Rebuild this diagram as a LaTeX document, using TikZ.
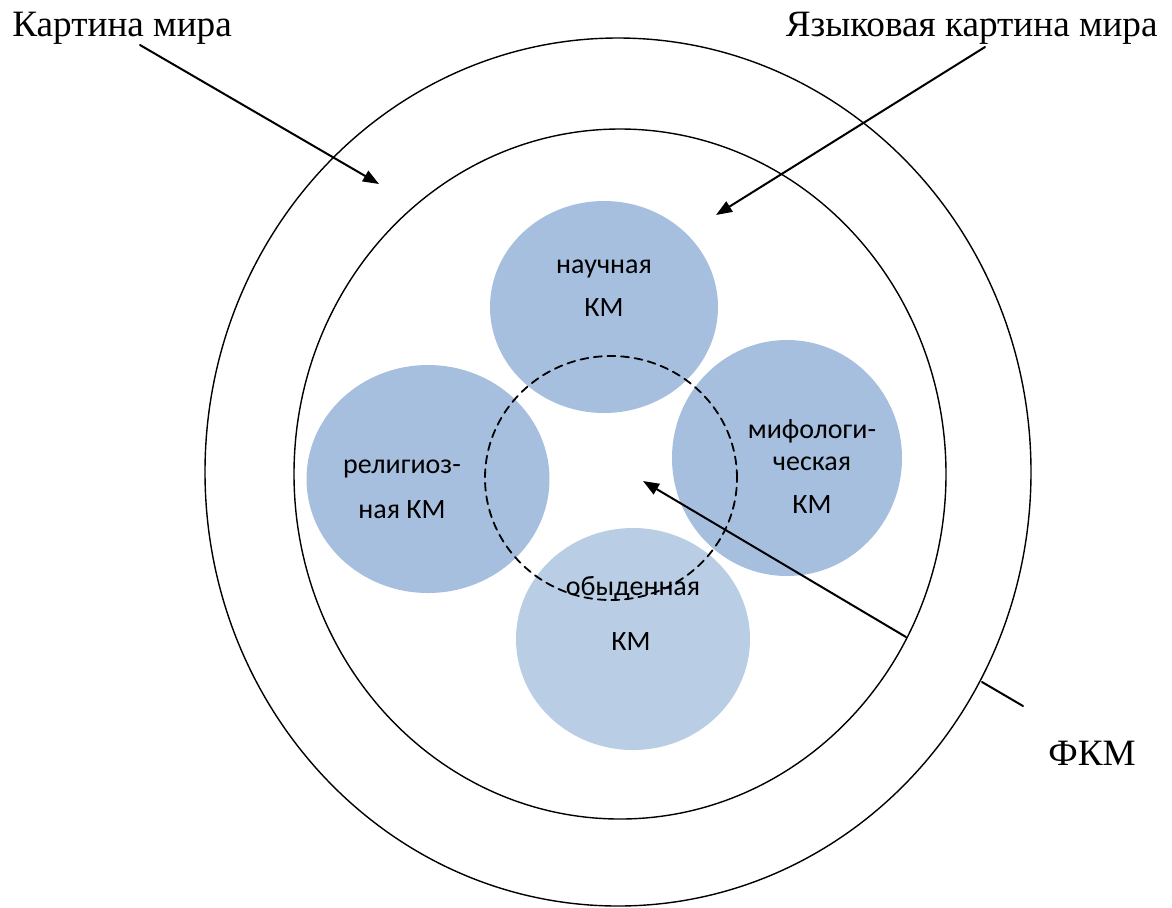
\documentclass[tikz,border=0pt]{standalone}
\usepackage{fontspec}
\setmainfont{Liberation Serif}
\newfontfamily\kmfont{Carlito}
\usetikzlibrary{arrows.meta,shapes.geometric}
\definecolor{kmblue}{RGB}{167,191,222}
\definecolor{kmlight}{RGB}{185,205,229}

\begin{document}
\begin{tikzpicture}[x=0.5pt, y=-0.5pt, line cap=round, line join=round, >={Triangle[length=8pt,width=6pt]}]
	\tikzset{ring/.style={draw, ellipse, line width=0.7pt, inner sep=0pt, outer sep=0pt},
		km/.style={ellipse, fill=kmblue, inner sep=0pt, outer sep=0pt},
		kmtext/.style={font=\kmfont\fontsize{14}{14}\selectfont, inner sep=0pt, anchor=base},
		caption/.style={font=\fontsize{18.6}{18.6}\selectfont, inner sep=0pt},
		pointer/.style={->, line width=1pt}}
	\useasboundingbox (0,0) rectangle (1172,907);
	% the four pictures of the world
	\node[km, minimum width=114pt, minimum height=106pt] (nauch) at (604,307) {};
	\node[km, minimum width=121.5pt, minimum height=114pt] (relig) at (428,479) {};
	\node[km, minimum width=115pt, minimum height=118pt] (mif) at (787,458) {};
	\node[km, fill=kmlight, minimum width=117pt, minimum height=111pt] (obyd) at (633,639) {};
	\node[kmtext] (nauch1) at (604,273) {научная};
	\node[kmtext] (nauch2) at (604,316) {КМ};
	\node[kmtext] (relig1) at (402,473) {религиоз-};
	\node[kmtext] (relig2) at (402,518) {ная КМ};
	\node[kmtext] (mif1) at (812,438) {мифологи-};
	\node[kmtext] (mif2) at (812,470) {ческая};
	\node[kmtext] (mif3) at (812,513) {КМ};
	\node[kmtext] (obyd1) at (633,595) {обыденная};
	\node[kmtext] (obyd2) at (631,650) {КМ};
	% rings
	\node[ring, minimum width=413pt, minimum height=434pt] (world) at (618,472) {};
	\node[ring, minimum width=326pt, minimum height=345pt] (lang) at (620,474) {};
	\node[ring, dash pattern=on 4pt off 2.8pt, line width=0.9pt, minimum width=126pt, minimum height=122pt] (fkmring) at (611,478) {};
	% captions
	\node[caption, anchor=base west] (kmcap) at (12,36) {Картина мира};
	\node[caption, anchor=base east] (ykmcap) at (1158,36) {Языковая картина мира};
	\node[caption, anchor=base west] (fkmcap) at (1048,765) {ФКМ};
	\coordinate (kmfrom) at (140,45);
	\coordinate (kmto) at (379,184);
	\coordinate (ykmfrom) at (985,47);
	\coordinate (ykmto) at (716,215);
	\coordinate (fkmfrom) at (906,637);
	\coordinate (fkmto) at (643,481);
	\coordinate (tickin) at (982,682);
	\coordinate (tickout) at (1023,706);
	\draw[pointer] (kmfrom) -- (kmto);
	\draw[pointer] (ykmfrom) -- (ykmto);
	\draw[pointer] (fkmfrom) -- (fkmto);
	\draw[line width=1pt] (tickin) -- (tickout);
\end{tikzpicture}
\end{document}
